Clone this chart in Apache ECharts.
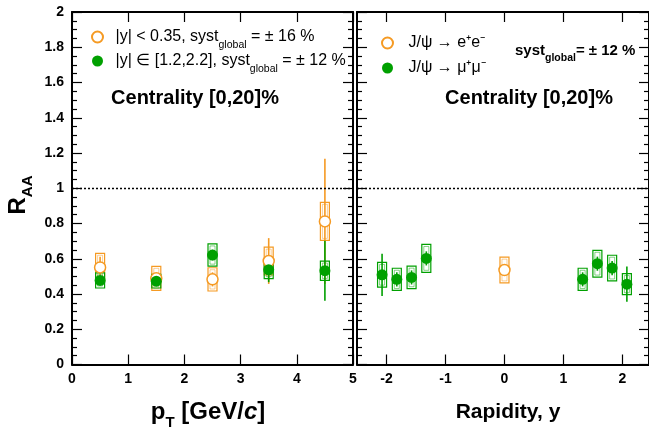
<!DOCTYPE html>
<html>
<head>
<meta charset="utf-8">
<script src="https://cdn.jsdelivr.net/npm/echarts@6/dist/echarts.min.js"></script>
<style>
  html, body { margin: 0; padding: 0; background: #fff; }
  #main { width: 649px; height: 430px; }
</style>
</head>
<body>
<div id="main"></div>
<script>
// pT panel, |y| < 0.35 (dielectrons) and 1.2 < |y| < 2.2 (dimuons)
const ptBins = [0.5, 1.5, 2.5, 3.5, 4.5];
const midRaa = [0.551, 0.489, 0.483, 0.587, 0.812];
const midStat = [0.06, 0.03, 0.04, 0.13, 0.355];
const midSyst = [0.08, 0.068, 0.066, 0.079, 0.108];
const fwdRaa = [0.477, 0.473, 0.621, 0.537, 0.532];
const fwdStat = [0.02, 0.02, 0.03, 0.07, 0.17];
const fwdSyst = [0.043, 0.039, 0.063, 0.05, 0.055];

// rapidity panel
const rapMu = [-2.075, -1.825, -1.575, -1.325, 1.325, 1.575, 1.825, 2.075];
const muRaa = [0.509, 0.483, 0.494, 0.602, 0.483, 0.572, 0.547, 0.456];
const muStat = [0.12, 0.04, 0.04, 0.04, 0.04, 0.04, 0.04, 0.10];
const muSyst = [0.07, 0.063, 0.064, 0.079, 0.063, 0.076, 0.073, 0.06];
const rapE = [0];
const eRaa = [0.536];
const eStat = [0.03];
const eSyst = [0.073];

const rapTicks = [-2, -1, 0, 1, 2];

const ORANGE = '#f59a23';
const GREEN = '#00a000';
const FONT = '"Liberation Sans", Arial, Helvetica, sans-serif';

const chart = echarts.init(document.getElementById('main'));

function pack(xs, ys, st, sy) {
  return xs.map((x, i) => [x, ys[i], st[i], sy[i]]);
}

function errRender(color) {
  return function (params, api) {
    const x = api.value(0), y = api.value(1);
    const st = api.value(2), sy = api.value(3);
    const c = api.coord([x, y]);
    const sTop = api.coord([x, y + sy])[1];
    const sBot = api.coord([x, y - sy])[1];
    const eTop = api.coord([x, y + st])[1];
    const eBot = api.coord([x, y - st])[1];
    return {
      type: 'group',
      children: [
        { type: 'rect', shape: { x: c[0] - 4.5, y: sTop, width: 9, height: sBot - sTop },
          style: { fill: 'none', stroke: color, lineWidth: 1.2 } },
        { type: 'rect', shape: { x: c[0] - 2.5, y: sTop + 2, width: 5, height: sBot - sTop - 4 },
          style: { fill: 'none', stroke: color, lineWidth: 0.8, opacity: 0.6 } },
        { type: 'line', shape: { x1: c[0], y1: eTop, x2: c[0], y2: eBot },
          style: { stroke: color, lineWidth: 1.6 } }
      ]
    };
  };
}

const tickStyle = { color: '#000', width: 1.2 };
const lineStyle = { color: '#000', width: 2 };
const labelStyle = { color: '#000', fontFamily: FONT, fontWeight: 'bold', fontSize: 14 };

function yAxisDef(grid, pos, showLabel) {
  return {
    type: 'value', gridIndex: grid, position: pos, min: 0, max: 2, interval: 0.2,
    axisLine: { show: true, onZero: false, lineStyle: lineStyle },
    axisTick: { inside: true, length: 10, lineStyle: tickStyle },
    minorTick: { show: true, splitNumber: 4, length: 5, lineStyle: tickStyle },
    splitLine: { show: false },
    axisLabel: showLabel ? Object.assign({ margin: 8, formatter: v => String(+v.toFixed(1)) }, labelStyle) : { show: false }
  };
}

function xAxisDef(grid, pos, min, max, showLabel, custom) {
  const ax = {
    type: 'value', gridIndex: grid, position: pos, min: min, max: max,
    axisLine: { show: true, onZero: false, lineStyle: lineStyle },
    splitLine: { show: false },
    axisTick: { inside: true, length: 10, lineStyle: tickStyle },
    axisLabel: showLabel ? Object.assign({ margin: 8 }, labelStyle) : { show: false }
  };
  if (custom) {
    ax.axisTick.customValues = custom;
    if (showLabel) ax.axisLabel.customValues = custom;
  } else {
    ax.interval = 1;
  }
  return ax;
}

const dotLine = {
  silent: true, symbol: ['none', 'none'], label: { show: false },
  lineStyle: { color: '#000', type: [2, 2], width: 1.3 },
  data: [{ yAxis: 1 }]
};

const richLeg = {
  t: { fontFamily: FONT, fontSize: 16, color: '#000', lineHeight: 28, verticalAlign: 'middle' },
  s: { fontFamily: FONT, fontSize: 10.5, color: '#000', lineHeight: 10, verticalAlign: 'bottom' }
};

const legendText = {
  '|y| < 0.35': '{t||y| < 0.35, syst}{s|global}{t| = ± 16 %}',
  '|y| ∈ [1.2,2.2]': '{t||y| ∈ [1.2,2.2], syst}{s|global}{t| = ± 12 %}',
  'J/ψ → e⁺e⁻': '{t|J/ψ → e⁺e⁻}',
  'J/ψ → μ⁺μ⁻': '{t|J/ψ → μ⁺μ⁻}'
};

const option = {
  backgroundColor: '#fff',
  animation: false,
  grid: [
    { left: 72, top: 12, width: 281, height: 352.5 },
    { left: 357, top: 12, width: 293, height: 352.5 }
  ],
  xAxis: [
    xAxisDef(0, 'bottom', 0, 5, true, null),
    xAxisDef(0, 'top', 0, 5, false, null),
    xAxisDef(1, 'bottom', -2.5, 2.45, true, rapTicks),
    xAxisDef(1, 'top', -2.5, 2.45, false, rapTicks)
  ],
  yAxis: [
    yAxisDef(0, 'left', true),
    yAxisDef(0, 'right', false),
    yAxisDef(1, 'left', false),
    yAxisDef(1, 'right', false)
  ],
  legend: [
    { orient: 'vertical', left: 91, top: 29, padding: 0, itemGap: 2, itemWidth: 26, itemHeight: 11,
      data: ['|y| < 0.35', '|y| ∈ [1.2,2.2]'],
      formatter: name => legendText[name],
      textStyle: { rich: richLeg } },
    { orient: 'vertical', left: 381, top: 35, padding: 0, itemGap: 9, itemWidth: 32, itemHeight: 11,
      data: ['J/ψ → e⁺e⁻', 'J/ψ → μ⁺μ⁻'],
      formatter: name => legendText[name],
      textStyle: { rich: richLeg } }
  ],
  series: [
    { type: 'custom', name: 'midErr', xAxisIndex: 0, yAxisIndex: 0, z: 2,
      renderItem: errRender(ORANGE), data: pack(ptBins, midRaa, midStat, midSyst),
      encode: { x: 0, y: 1 }, markLine: dotLine },
    { type: 'custom', name: 'fwdErr', xAxisIndex: 0, yAxisIndex: 0, z: 3,
      renderItem: errRender(GREEN), data: pack(ptBins, fwdRaa, fwdStat, fwdSyst),
      encode: { x: 0, y: 1 } },
    { type: 'scatter', name: '|y| < 0.35', xAxisIndex: 0, yAxisIndex: 0, z: 4,
      symbol: 'circle', symbolSize: 11,
      itemStyle: { color: '#fff', borderColor: ORANGE, borderWidth: 1.5, opacity: 1 },
      data: ptBins.map((x, i) => [x, midRaa[i]]) },
    { type: 'scatter', name: '|y| ∈ [1.2,2.2]', xAxisIndex: 0, yAxisIndex: 0, z: 5,
      symbol: 'circle', symbolSize: 11,
      itemStyle: { color: GREEN, opacity: 1 },
      data: ptBins.map((x, i) => [x, fwdRaa[i]]) },

    { type: 'custom', name: 'eErr', xAxisIndex: 2, yAxisIndex: 2, z: 2,
      renderItem: errRender(ORANGE), data: pack(rapE, eRaa, eStat, eSyst),
      encode: { x: 0, y: 1 }, markLine: dotLine },
    { type: 'custom', name: 'muErr', xAxisIndex: 2, yAxisIndex: 2, z: 3,
      renderItem: errRender(GREEN), data: pack(rapMu, muRaa, muStat, muSyst),
      encode: { x: 0, y: 1 } },
    { type: 'scatter', name: 'J/ψ → e⁺e⁻', xAxisIndex: 2, yAxisIndex: 2, z: 4,
      symbol: 'circle', symbolSize: 11,
      itemStyle: { color: '#fff', borderColor: ORANGE, borderWidth: 1.5, opacity: 1 },
      data: rapE.map((x, i) => [x, eRaa[i]]) },
    { type: 'scatter', name: 'J/ψ → μ⁺μ⁻', xAxisIndex: 2, yAxisIndex: 2, z: 5,
      symbol: 'circle', symbolSize: 11,
      itemStyle: { color: GREEN, opacity: 1 },
      data: rapMu.map((x, i) => [x, muRaa[i]]) }
  ],
  graphic: [
    { type: 'text', x: 18, y: 195, rotation: Math.PI / 2,
      style: { text: '{r|R}{s|AA}', align: 'center', verticalAlign: 'middle',
        rich: {
          r: { fontFamily: FONT, fontWeight: 'bold', fontSize: 24, color: '#000', lineHeight: 34, verticalAlign: 'middle' },
          s: { fontFamily: FONT, fontWeight: 'bold', fontSize: 15, color: '#000', lineHeight: 15, verticalAlign: 'bottom' }
        } } },
    { type: 'text', x: 208, y: 412,
      style: { text: '{b|p}{s|T}{b| [GeV/}{i|c}{b|]}', align: 'center', verticalAlign: 'middle',
        rich: {
          b: { fontFamily: FONT, fontWeight: 'bold', fontSize: 24, color: '#000', lineHeight: 36, verticalAlign: 'middle' },
          i: { fontFamily: FONT, fontWeight: 'bold', fontStyle: 'italic', fontSize: 24, color: '#000', lineHeight: 36, verticalAlign: 'middle' },
          s: { fontFamily: FONT, fontWeight: 'bold', fontSize: 15, color: '#000', lineHeight: 15, verticalAlign: 'bottom' }
        } } },
    { type: 'text', x: 508, y: 412,
      style: { text: 'Rapidity, y', align: 'center', verticalAlign: 'middle',
        font: 'bold 21px ' + FONT, fill: '#000' } },
    { type: 'text', x: 195, y: 98,
      style: { text: 'Centrality [0,20]%', align: 'center', verticalAlign: 'middle',
        font: 'bold 20px ' + FONT, fill: '#000' } },
    { type: 'text', x: 529, y: 98,
      style: { text: 'Centrality [0,20]%', align: 'center', verticalAlign: 'middle',
        font: 'bold 20px ' + FONT, fill: '#000' } },
    { type: 'text', x: 515, y: 51,
      style: { text: '{t|syst}{s|global}{t|= ± 12 %}', align: 'left', verticalAlign: 'middle',
        rich: {
          t: { fontFamily: FONT, fontWeight: 'bold', fontSize: 15, color: '#000', lineHeight: 26, verticalAlign: 'middle' },
          s: { fontFamily: FONT, fontWeight: 'bold', fontSize: 10.5, color: '#000', lineHeight: 10, verticalAlign: 'bottom' }
        } } }
  ]
};

chart.setOption(option);
</script>
</body>
</html>
